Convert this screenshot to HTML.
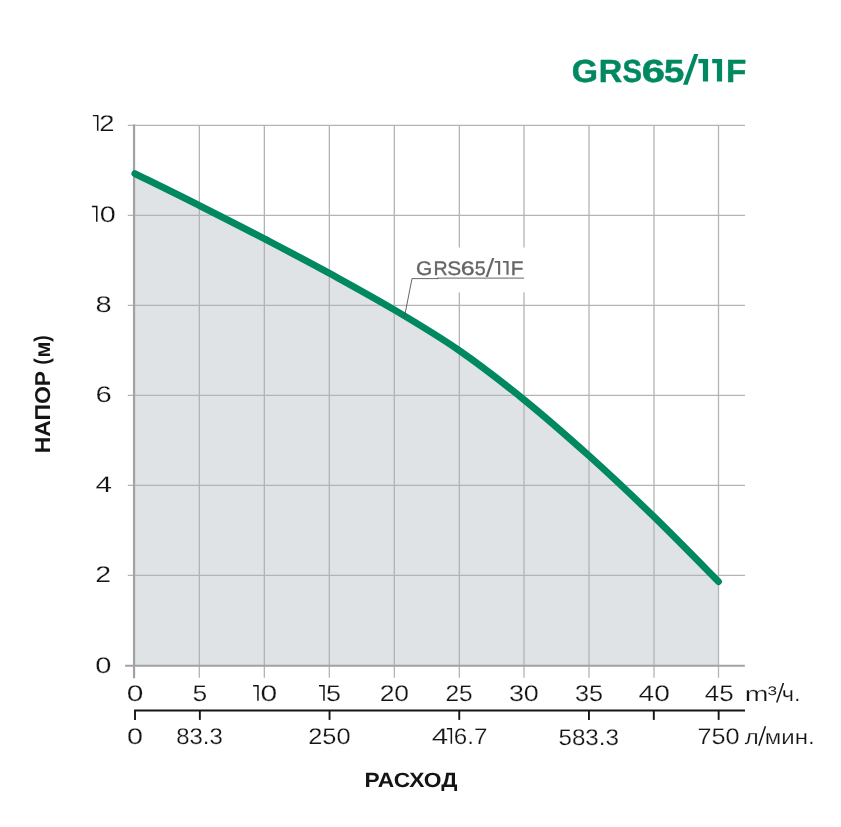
<!DOCTYPE html>
<html lang="ru"><head><meta charset="utf-8"><title>GRS65/11F</title>
<style>
html,body{margin:0;padding:0;background:#fff;}
body{width:841px;height:827px;overflow:hidden;font-family:"Liberation Sans",sans-serif;}
svg{display:block;will-change:transform;}
text{font-family:"Liberation Sans",sans-serif;text-anchor:middle;text-rendering:geometricPrecision;}
.t{fill:#141414;stroke:#fff;stroke-width:0.22px;}
.n{fill:#222;}
.g{fill:#008960;font-weight:bold;stroke:#008960;stroke-width:0.5px;}
.l{fill:#656565;stroke:#656565;stroke-width:0.35px;}
.b{fill:#141414;font-weight:bold;}
</style></head><body>
<svg width="841" height="827" viewBox="0 0 841 827" role="img" aria-label="GRS65/11F: НАПОР (м) / РАСХОД (m³/ч., л/мин.)">
<rect x="0" y="0" width="841" height="827" fill="#ffffff"/>
<path d="M134.9,173.6 C145.6,178.9 177.8,194.6 199.3,205.5 C220.9,216.4 242.7,227.4 264.4,238.8 C286.0,250.1 307.7,261.4 329.4,273.3 C351.0,285.2 372.7,297.0 394.4,309.9 C416.0,322.7 437.7,335.6 459.4,350.6 C481.0,365.6 502.4,382.2 524.0,399.7 C545.6,417.2 567.3,436.3 589.0,455.8 C610.7,475.3 632.4,495.8 654.0,516.8 C675.6,537.8 707.8,570.8 718.5,581.6 L718.6,665.8 L134.0,665.8 L134,173.2 Z" fill="#dfe3e6"/>
<line x1="127.8" x2="745" y1="575.3" y2="575.3" stroke="#b4b4b4" stroke-width="1.3"/>
<line x1="127.8" x2="745" y1="485.3" y2="485.3" stroke="#b4b4b4" stroke-width="1.3"/>
<line x1="127.8" x2="745" y1="395.3" y2="395.3" stroke="#b4b4b4" stroke-width="1.3"/>
<line x1="127.8" x2="745" y1="305.3" y2="305.3" stroke="#b4b4b4" stroke-width="1.3"/>
<line x1="127.8" x2="745" y1="215.3" y2="215.3" stroke="#b4b4b4" stroke-width="1.3"/>
<line x1="127.8" x2="745" y1="125.3" y2="125.3" stroke="#b4b4b4" stroke-width="1.3"/>
<line x1="199.35" x2="199.35" y1="124.9" y2="677.8" stroke="#b4b4b4" stroke-width="1.3"/>
<line x1="264.35" x2="264.35" y1="124.9" y2="677.8" stroke="#b4b4b4" stroke-width="1.3"/>
<line x1="329.35" x2="329.35" y1="124.9" y2="677.8" stroke="#b4b4b4" stroke-width="1.3"/>
<line x1="394.35" x2="394.35" y1="124.9" y2="677.8" stroke="#b4b4b4" stroke-width="1.3"/>
<line x1="459.35" x2="459.35" y1="124.9" y2="677.8" stroke="#b4b4b4" stroke-width="1.3"/>
<line x1="524.00" x2="524.00" y1="124.9" y2="677.8" stroke="#b4b4b4" stroke-width="1.3"/>
<line x1="589.00" x2="589.00" y1="124.9" y2="677.8" stroke="#b4b4b4" stroke-width="1.3"/>
<line x1="654.00" x2="654.00" y1="124.9" y2="677.8" stroke="#b4b4b4" stroke-width="1.3"/>
<line x1="718.50" x2="718.50" y1="124.9" y2="677.8" stroke="#b4b4b4" stroke-width="1.3"/>
<rect x="413" y="247.5" width="113" height="44.9" fill="#ffffff"/>
<line x1="134.05" x2="134.05" y1="124.6" y2="678.2" stroke="#a2a2a2" stroke-width="2.2"/>
<line x1="125.1" x2="744.8" y1="665.8" y2="665.8" stroke="#a2a2a2" stroke-width="1.9"/>
<path d="M134.9,173.6 C145.6,178.9 177.8,194.6 199.3,205.5 C220.9,216.4 242.7,227.4 264.4,238.8 C286.0,250.1 307.7,261.4 329.4,273.3 C351.0,285.2 372.7,297.0 394.4,309.9 C416.0,322.7 437.7,335.6 459.4,350.6 C481.0,365.6 502.4,382.2 524.0,399.7 C545.6,417.2 567.3,436.3 589.0,455.8 C610.7,475.3 632.4,495.8 654.0,516.8 C675.6,537.8 707.8,570.8 718.5,581.6" fill="none" stroke="#008960" stroke-width="6.9" stroke-linecap="round" stroke-linejoin="round"/>
<line x1="437" x2="524.1" y1="278.2" y2="278.2" stroke="#858585" stroke-width="1.3"/>
<polyline points="404.25,317.8 412.0,278.6 438.5,278.6" fill="none" stroke="#555555" stroke-width="0.9"/>
<line x1="134.05" x2="745" y1="710.42" y2="710.42" stroke="#151515" stroke-width="2"/>
<line x1="135.00" x2="135.00" y1="710.4" y2="719.9" stroke="#151515" stroke-width="1.9"/>
<line x1="199.85" x2="199.85" y1="710.4" y2="719.9" stroke="#151515" stroke-width="1.9"/>
<line x1="329.55" x2="329.55" y1="710.4" y2="719.9" stroke="#151515" stroke-width="1.9"/>
<line x1="459.25" x2="459.25" y1="710.4" y2="719.9" stroke="#151515" stroke-width="1.9"/>
<line x1="588.95" x2="588.95" y1="710.4" y2="719.9" stroke="#151515" stroke-width="1.9"/>
<line x1="653.80" x2="653.80" y1="710.4" y2="719.9" stroke="#151515" stroke-width="1.9"/>
<line x1="718.65" x2="718.65" y1="710.4" y2="719.9" stroke="#151515" stroke-width="1.9"/>
<polygon points="694.10,54.00 698.40,54.00 687.60,84.80 683.00,84.80" fill="#008960"/>
<polygon points="698.40,59.10 708.10,59.10 708.10,81.60 702.90,81.60 702.90,63.20 698.40,63.20" fill="#008960"/>
<polygon points="712.20,59.10 722.10,59.10 722.10,81.60 716.90,81.60 716.90,63.20 712.20,63.20" fill="#008960"/>
<polygon points="492.10,258.10 494.40,258.10 487.90,276.90 485.50,276.90" fill="#686868"/>
<polygon points="494.70,261.10 500.20,261.10 500.20,274.80 498.05,274.80 498.05,262.80 494.70,262.80" fill="#686868"/>
<polygon points="502.90,261.10 508.60,261.10 508.60,274.80 506.45,274.80 506.45,262.80 502.90,262.80" fill="#686868"/>
<polygon points="92.84,114.90 98.45,114.90 98.45,130.80 96.95,130.80 96.95,116.30 92.84,116.30" fill="#141414"/>
<polygon points="91.90,205.80 97.50,205.80 97.50,221.70 96.00,221.70 96.00,207.20 91.90,207.20" fill="#141414"/>
<polygon points="253.10,685.10 258.70,685.10 258.70,700.80 257.20,700.80 257.20,686.50 253.10,686.50" fill="#141414"/>
<polygon points="319.00,685.10 324.70,685.10 324.70,700.80 323.20,700.80 323.20,686.50 319.00,686.50" fill="#141414"/>
<polygon points="446.80,728.00 452.10,728.00 452.10,743.75 450.60,743.75 450.60,729.40 446.80,729.40" fill="#141414"/>
<polygon points="782.60,683.10 784.20,683.10 777.60,702.60 776.00,702.60" fill="#141414"/>
<polygon points="764.60,726.20 766.20,726.20 759.70,745.70 758.10,745.70" fill="#141414"/>
<text x="106.96" y="130.90" font-size="22.70" textLength="15.23" lengthAdjust="spacingAndGlyphs" class="t">2</text>
<text x="107.74" y="221.65" font-size="22.70" textLength="16.00" lengthAdjust="spacingAndGlyphs" class="t">0</text>
<text x="103.59" y="311.75" font-size="22.70" textLength="16.14" lengthAdjust="spacingAndGlyphs" class="t">8</text>
<text x="103.60" y="401.75" font-size="22.70" textLength="16.32" lengthAdjust="spacingAndGlyphs" class="t">6</text>
<text x="103.78" y="491.90" font-size="22.70" textLength="16.50" lengthAdjust="spacingAndGlyphs" class="t">4</text>
<text x="103.19" y="581.90" font-size="22.70" textLength="15.82" lengthAdjust="spacingAndGlyphs" class="t">2</text>
<text x="103.45" y="672.55" font-size="22.70" textLength="16.16" lengthAdjust="spacingAndGlyphs" class="t">0</text>
<text x="135.21" y="700.65" font-size="22.70" textLength="16.64" lengthAdjust="spacingAndGlyphs" class="t">0</text>
<text x="199.89" y="700.85" font-size="22.70" textLength="14.71" lengthAdjust="spacingAndGlyphs" class="t">5</text>
<text x="268.83" y="700.65" font-size="22.70" textLength="16.71" lengthAdjust="spacingAndGlyphs" class="t">0</text>
<text x="333.42" y="700.85" font-size="22.70" textLength="15.00" lengthAdjust="spacingAndGlyphs" class="t">5</text>
<text x="394.39" y="700.65" font-size="22.70" textLength="29.41" lengthAdjust="spacingAndGlyphs" class="t">20</text>
<text x="459.14" y="700.85" font-size="22.70" textLength="27.19" lengthAdjust="spacingAndGlyphs" class="t">25</text>
<text x="523.89" y="700.65" font-size="22.70" textLength="29.94" lengthAdjust="spacingAndGlyphs" class="t">30</text>
<text x="588.94" y="700.85" font-size="22.70" textLength="28.09" lengthAdjust="spacingAndGlyphs" class="t">35</text>
<text x="654.21" y="700.65" font-size="22.70" textLength="31.22" lengthAdjust="spacingAndGlyphs" class="t">40</text>
<text x="719.19" y="700.85" font-size="22.70" textLength="28.88" lengthAdjust="spacingAndGlyphs" class="t">45</text>
<text x="134.99" y="743.80" font-size="22.70" textLength="15.98" lengthAdjust="spacingAndGlyphs" class="t">0</text>
<text x="199.50" y="743.80" font-size="22.70" textLength="46.53" lengthAdjust="spacingAndGlyphs" class="t">83.3</text>
<text x="329.37" y="743.80" font-size="22.70" textLength="42.34" lengthAdjust="spacingAndGlyphs" class="t">250</text>
<text x="440.08" y="743.90" font-size="22.70" textLength="16.50" lengthAdjust="spacingAndGlyphs" class="t">4</text>
<text x="470.65" y="743.80" font-size="22.70" textLength="33.64" lengthAdjust="spacingAndGlyphs" class="t">6.7</text>
<text x="588.68" y="744.75" font-size="22.70" textLength="60.43" lengthAdjust="spacingAndGlyphs" class="t">583.3</text>
<text x="718.55" y="743.70" font-size="22.70" textLength="42.12" lengthAdjust="spacingAndGlyphs" class="t">750</text>
<text x="756.54" y="700.50" font-size="20.80" textLength="23.69" lengthAdjust="spacingAndGlyphs" class="t">m</text>
<text x="772.29" y="694.80" font-size="12.40" textLength="9.59" lengthAdjust="spacingAndGlyphs" class="n">3</text>
<text x="791.12" y="700.50" font-size="20.80" textLength="18.77" lengthAdjust="spacingAndGlyphs" class="t">ч.</text>
<text x="751.88" y="743.50" font-size="20.80" textLength="13.98" lengthAdjust="spacingAndGlyphs" class="t">л</text>
<text x="789.75" y="743.50" font-size="20.80" textLength="49.91" lengthAdjust="spacingAndGlyphs" class="t">мин.</text>
<text x="584.84" y="81.70" font-size="32.00" textLength="26.26" lengthAdjust="spacingAndGlyphs" class="g">G</text>
<text x="610.47" y="81.70" font-size="32.00" textLength="23.42" lengthAdjust="spacingAndGlyphs" class="g">R</text>
<text x="632.34" y="81.70" font-size="32.00" textLength="19.45" lengthAdjust="spacingAndGlyphs" class="g">S</text>
<text x="653.26" y="81.70" font-size="32.00" textLength="23.27" lengthAdjust="spacingAndGlyphs" class="g">6</text>
<text x="674.12" y="81.70" font-size="32.00" textLength="20.26" lengthAdjust="spacingAndGlyphs" class="g">5</text>
<text x="736.09" y="81.70" font-size="32.00" textLength="20.31" lengthAdjust="spacingAndGlyphs" class="g">F</text>
<text x="424.18" y="274.70" font-size="19.60" textLength="16.24" lengthAdjust="spacingAndGlyphs" class="l">G</text>
<text x="440.60" y="274.70" font-size="19.60" textLength="14.12" lengthAdjust="spacingAndGlyphs" class="l">R</text>
<text x="454.14" y="274.70" font-size="19.60" textLength="13.93" lengthAdjust="spacingAndGlyphs" class="l">S</text>
<text x="467.65" y="274.70" font-size="19.60" textLength="13.90" lengthAdjust="spacingAndGlyphs" class="l">6</text>
<text x="480.23" y="274.70" font-size="19.60" textLength="10.93" lengthAdjust="spacingAndGlyphs" class="l">5</text>
<text x="517.06" y="274.70" font-size="19.60" textLength="12.60" lengthAdjust="spacingAndGlyphs" class="l">F</text>
<text x="411.02" y="786.95" font-size="20.60" textLength="92.84" lengthAdjust="spacingAndGlyphs" class="b">РАСХОД</text>
<text transform="translate(49.85,0) rotate(-90)" x="-412.12" y="0" font-size="21.50" textLength="82.52" lengthAdjust="spacingAndGlyphs" class="b">НАПОР</text>
<text transform="translate(49.45,0) rotate(-90)" x="-361.56" y="0" font-size="21.30" textLength="6.50" lengthAdjust="spacingAndGlyphs" class="b">(</text>
<text transform="translate(49.90,0) rotate(-90)" x="-349.54" y="0" font-size="22.00" textLength="15.97" lengthAdjust="spacingAndGlyphs" class="b">м</text>
<text transform="translate(49.45,0) rotate(-90)" x="-338.59" y="0" font-size="21.30" textLength="6.49" lengthAdjust="spacingAndGlyphs" class="b">)</text>
</svg></body></html>
